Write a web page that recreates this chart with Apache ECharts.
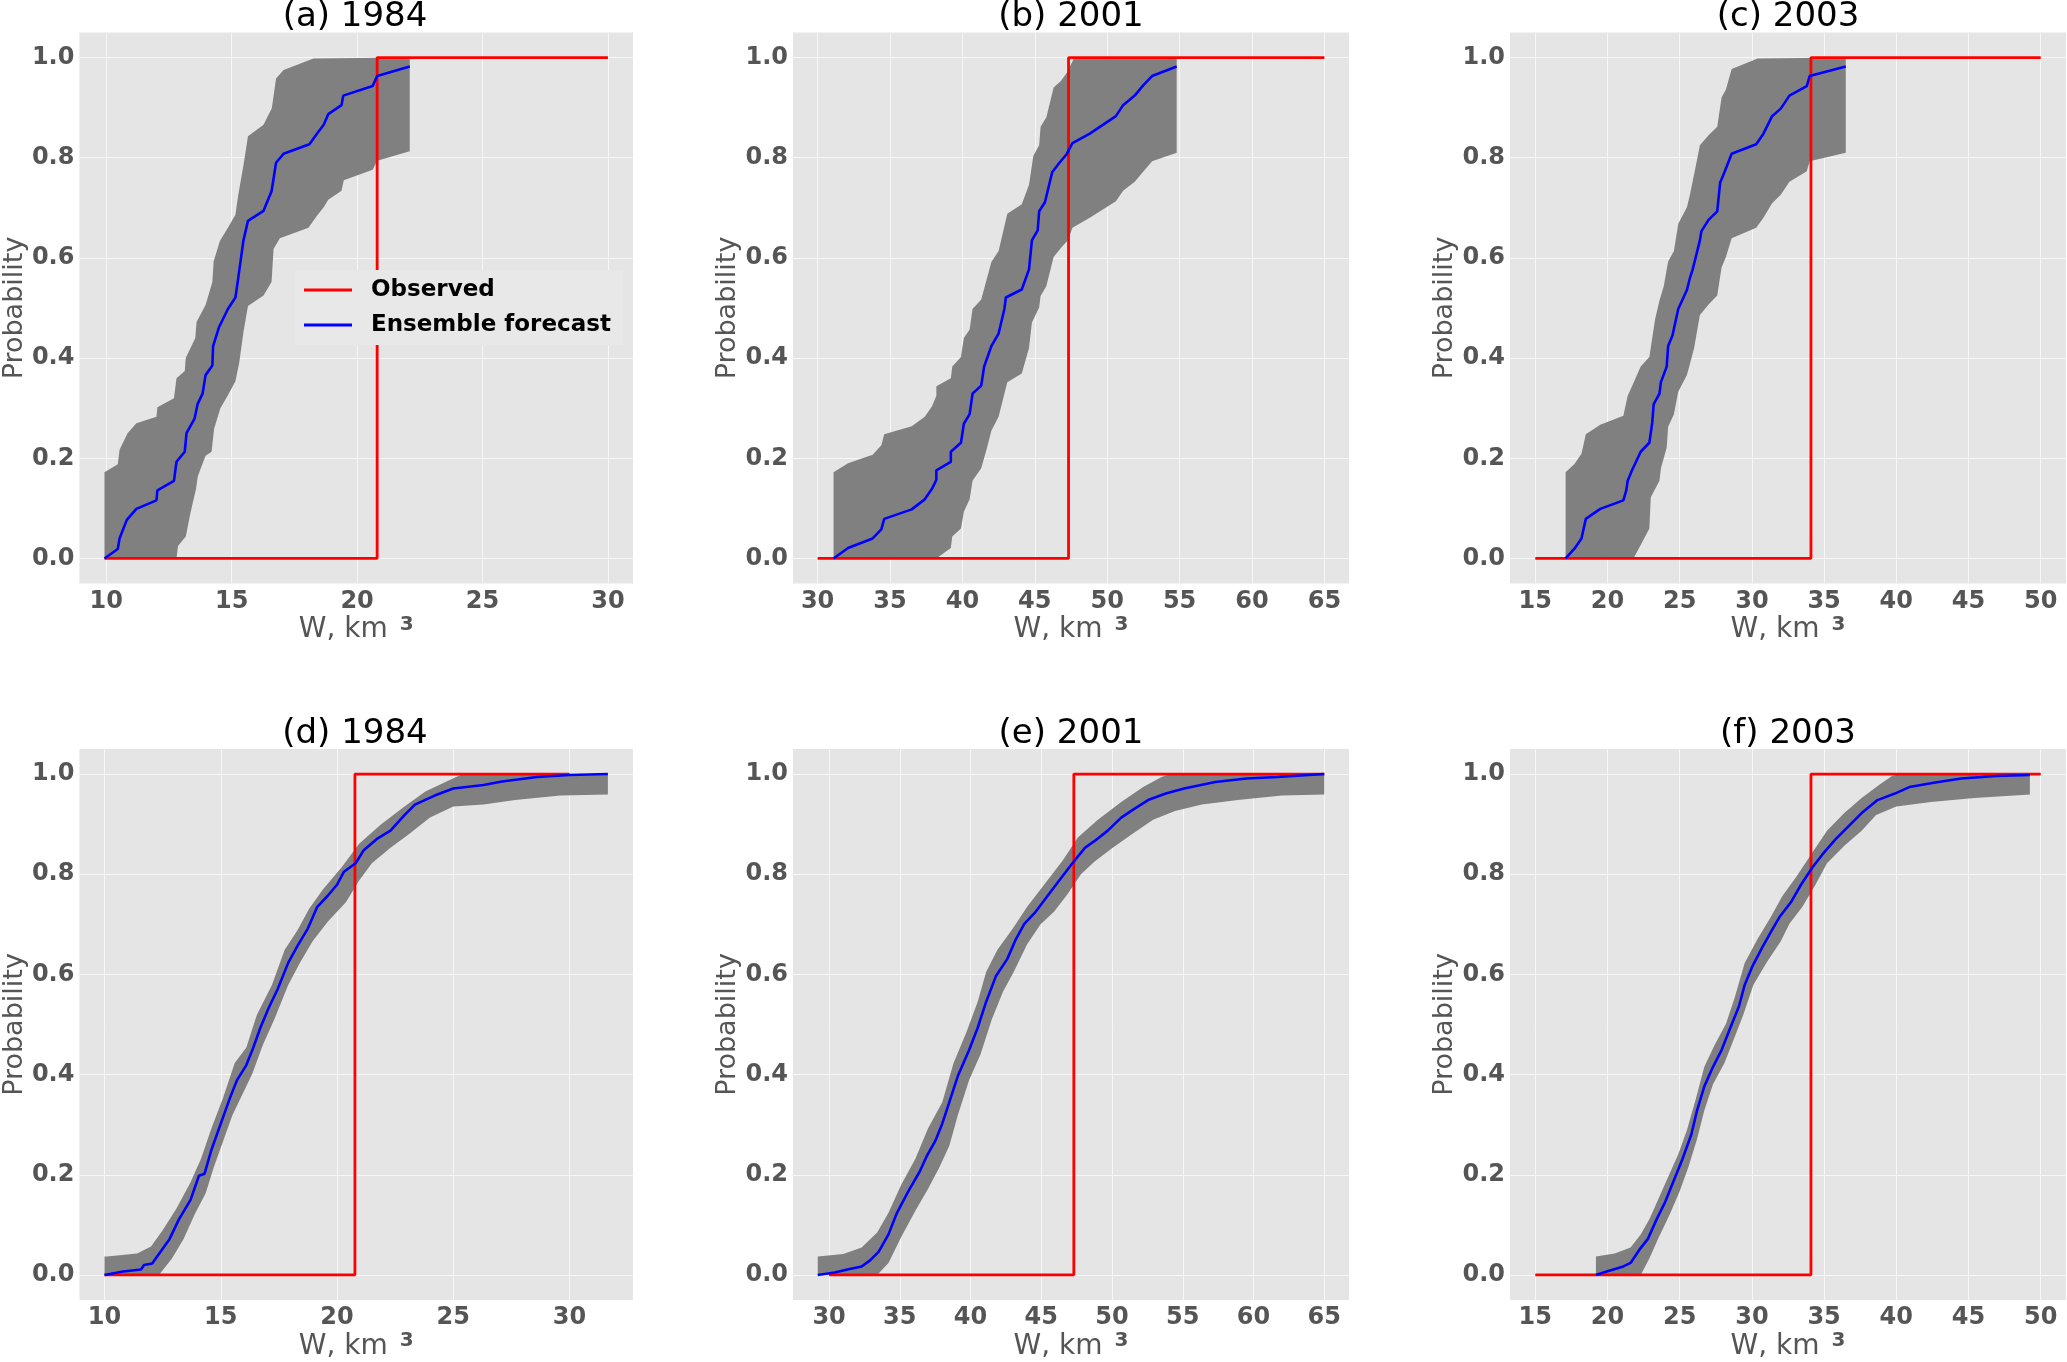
<!DOCTYPE html>
<html>
<head>
<meta charset="utf-8">
<script src="https://cdn.jsdelivr.net/npm/echarts@6/dist/echarts.min.js"></script>
<style>
html,body{margin:0;padding:0;background:#fff;}
#chart{width:2067px;height:1362px;}
</style>
</head>
<body>
<div id="chart"></div>
<script>
// ---------------- DATA ----------------
const titles = ['(a) 1984', '(b) 2001', '(c) 2003', '(d) 1984', '(e) 2001', '(f) 2003'];
const yTicks = [0, 0.2, 0.4, 0.6, 0.8, 1.0];
const xTicksA = [10, 15, 20, 25, 30];
const xTicksB = [30, 35, 40, 45, 50, 55, 60, 65];
const xTicksC = [15, 20, 25, 30, 35, 40, 45, 50];
const xTicksD = [10, 15, 20, 25, 30];
const xTicksE = [30, 35, 40, 45, 50, 55, 60, 65];
const xTicksF = [15, 20, 25, 30, 35, 40, 45, 50];

// observed value and the x-span of the observed step line
const obsA = 20.8, obsSpanA = [9.93, 30];
const obsB = 47.33, obsSpanB = [30, 65];
const obsC = 34.09, obsSpanC = [15, 50];
const obsD = 20.77, obsSpanD = [10, 30];
const obsE = 47.3, obsSpanE = [30, 65];
const obsF = 34.09, obsSpanF = [15, 50];

// (a) 1984
const aFcst = [[9.93,0],[10.46,0.019],[10.53,0.04],[10.82,0.077],[11.2,0.099],[12.0,0.116],[12.04,0.136],[12.7,0.155],[12.8,0.193],[13.13,0.213],[13.2,0.25],[13.52,0.279],[13.64,0.308],[13.84,0.329],[13.96,0.366],[14.23,0.385],[14.26,0.424],[14.49,0.461],[14.85,0.498],[15.15,0.521],[15.26,0.559],[15.47,0.635],[15.65,0.674],[16.27,0.694],[16.59,0.733],[16.77,0.79],[17.07,0.808],[18.1,0.827],[18.4,0.848],[18.67,0.866],[18.85,0.887],[19.38,0.905],[19.45,0.924],[20.62,0.943],[20.8,0.963],[22.1,0.982]];
const aUpper = [[9.93,0],[9.93,0.172],[10.46,0.188],[10.53,0.217],[10.85,0.25],[11.2,0.27],[12.0,0.283],[12.04,0.302],[12.7,0.32],[12.8,0.36],[13.13,0.374],[13.17,0.4],[13.55,0.44],[13.6,0.472],[13.96,0.506],[14.23,0.552],[14.28,0.593],[14.53,0.634],[14.85,0.66],[15.15,0.686],[15.26,0.725],[15.47,0.785],[15.65,0.843],[16.27,0.866],[16.6,0.899],[16.77,0.958],[17.07,0.975],[18.26,0.998],[22.1,1.0]];
const aLower = [[9.93,0],[12.8,0],[12.86,0.025],[13.17,0.044],[13.35,0.089],[13.58,0.139],[13.65,0.164],[13.96,0.205],[14.2,0.213],[14.3,0.259],[14.55,0.3],[14.85,0.326],[15.15,0.354],[15.3,0.39],[15.47,0.452],[15.65,0.504],[16.27,0.525],[16.59,0.552],[16.67,0.618],[16.92,0.639],[18.06,0.66],[18.4,0.684],[18.67,0.701],[18.85,0.716],[19.38,0.734],[19.47,0.755],[20.62,0.776],[20.8,0.794],[22.1,0.813]];

// (b) 2001
const bFcst = [[31.1,0],[32.1,0.021],[33.8,0.04],[34.4,0.058],[34.6,0.079],[36.5,0.098],[37.4,0.118],[37.9,0.139],[38.2,0.157],[38.2,0.176],[39.2,0.193],[39.2,0.213],[39.9,0.231],[40.0,0.25],[40.1,0.269],[40.5,0.288],[40.7,0.329],[41.3,0.345],[41.5,0.383],[42.0,0.424],[42.5,0.449],[42.9,0.498],[43.0,0.521],[44.1,0.537],[44.6,0.577],[44.8,0.635],[45.2,0.655],[45.3,0.693],[45.7,0.711],[46.2,0.771],[46.7,0.79],[47.2,0.807],[47.6,0.829],[48.8,0.848],[50.6,0.883],[51.1,0.905],[51.9,0.924],[52.5,0.945],[53.1,0.963],[54.8,0.982]];
const bUpper = [[31.1,0],[31.1,0.172],[32.1,0.19],[33.8,0.207],[34.4,0.226],[34.6,0.248],[36.5,0.264],[37.4,0.283],[37.9,0.304],[38.2,0.325],[38.2,0.344],[39.2,0.36],[39.3,0.383],[39.9,0.402],[40.1,0.44],[40.5,0.457],[40.7,0.498],[41.3,0.517],[42.0,0.592],[42.5,0.614],[43.1,0.688],[44.1,0.707],[44.6,0.746],[44.9,0.804],[45.3,0.825],[45.4,0.862],[45.8,0.881],[46.3,0.94],[46.8,0.953],[47.2,0.969],[47.7,0.998],[54.8,1.0]];
const bLower = [[31.1,0],[38.2,0],[39.2,0.021],[39.3,0.044],[39.9,0.06],[40.1,0.093],[40.5,0.118],[40.7,0.155],[41.3,0.18],[41.7,0.221],[42.0,0.255],[42.5,0.283],[42.9,0.329],[43.1,0.352],[44.1,0.369],[44.6,0.42],[44.8,0.471],[45.3,0.501],[45.4,0.524],[45.8,0.544],[46.3,0.602],[46.8,0.62],[47.3,0.636],[47.6,0.66],[48.8,0.68],[50.6,0.713],[51.1,0.734],[51.9,0.752],[53.1,0.793],[54.8,0.81]];

// (c) 2003
const cFcst = [[17.1,0],[17.7,0.019],[18.2,0.04],[18.5,0.079],[19.5,0.099],[21.1,0.116],[21.3,0.136],[21.4,0.155],[21.7,0.176],[22.3,0.213],[22.9,0.231],[23.1,0.271],[23.2,0.308],[23.6,0.329],[23.7,0.352],[24.1,0.383],[24.2,0.424],[24.5,0.445],[24.9,0.498],[25.5,0.536],[25.7,0.559],[25.9,0.577],[26.1,0.6],[26.4,0.635],[26.5,0.653],[27.0,0.676],[27.6,0.693],[27.8,0.75],[28.1,0.771],[28.6,0.808],[30.3,0.827],[30.8,0.848],[31.4,0.883],[32.0,0.898],[32.6,0.924],[33.8,0.943],[34.0,0.963],[36.5,0.982]];
const cUpper = [[17.1,0],[17.1,0.172],[17.7,0.188],[18.2,0.209],[18.5,0.248],[19.5,0.267],[21.1,0.285],[21.4,0.325],[21.7,0.344],[22.3,0.383],[22.9,0.402],[23.1,0.44],[23.3,0.478],[23.6,0.515],[23.9,0.544],[24.2,0.593],[24.6,0.614],[24.9,0.668],[25.5,0.701],[25.7,0.725],[26.0,0.767],[26.4,0.825],[27.0,0.845],[27.6,0.862],[27.9,0.92],[28.2,0.936],[28.6,0.977],[30.4,0.998],[36.5,1.0]];
const cLower = [[17.1,0],[21.8,0],[22.3,0.027],[22.9,0.06],[23.0,0.122],[23.6,0.155],[23.7,0.18],[24.1,0.221],[24.2,0.263],[24.6,0.288],[24.9,0.333],[25.5,0.366],[25.7,0.387],[26.0,0.42],[26.4,0.486],[27.0,0.507],[27.6,0.525],[27.9,0.581],[28.2,0.602],[28.6,0.639],[30.3,0.66],[30.8,0.68],[31.4,0.709],[32.0,0.726],[32.6,0.752],[33.8,0.773],[34.0,0.793],[36.5,0.81]];

// (d) 1984
const dFcst = [[10.0,0],[10.8,0.007],[11.57,0.011],[11.7,0.02],[12.05,0.023],[12.34,0.042],[12.8,0.072],[13.2,0.111],[13.7,0.15],[14.06,0.198],[14.3,0.202],[14.6,0.25],[15.0,0.302],[15.4,0.354],[15.7,0.389],[16.1,0.419],[16.4,0.454],[16.7,0.493],[17.05,0.532],[17.45,0.571],[17.9,0.623],[18.3,0.657],[18.75,0.692],[19.15,0.735],[19.6,0.757],[20.0,0.779],[20.3,0.805],[20.8,0.822],[21.15,0.848],[21.7,0.87],[22.3,0.887],[22.9,0.918],[23.35,0.939],[24.2,0.957],[25.0,0.971],[26.3,0.978],[27.1,0.985],[28.6,0.994],[30.0,0.998],[31.65,1.0]];
const dUpper = [[10.0,0],[10.0,0.037],[10.1,0.037],[11.4,0.043],[12.0,0.057],[12.5,0.089],[13.1,0.133],[13.7,0.185],[14.15,0.232],[14.6,0.293],[15.1,0.354],[15.6,0.423],[16.1,0.454],[16.55,0.519],[17.2,0.579],[17.75,0.649],[18.3,0.688],[18.8,0.731],[19.4,0.77],[20.2,0.814],[20.95,0.861],[21.9,0.9],[22.9,0.935],[23.8,0.965],[24.8,0.987],[25.4,1.0],[31.65,1.0]];
const dLower = [[10.0,0],[12.34,0],[12.9,0.033],[13.4,0.072],[13.87,0.12],[14.35,0.163],[14.7,0.215],[15.1,0.267],[15.5,0.319],[15.96,0.363],[16.36,0.402],[16.8,0.458],[17.3,0.51],[17.9,0.579],[18.4,0.623],[18.95,0.666],[19.6,0.705],[20.38,0.744],[20.96,0.788],[21.5,0.822],[22.3,0.853],[23.06,0.879],[24.0,0.913],[25.0,0.935],[26.3,0.939],[27.66,0.948],[29.6,0.957],[31.65,0.959]];

// (e) 2001
const eFcst = [[29.2,0],[30.4,0.005],[31.3,0.011],[32.3,0.017],[32.9,0.029],[33.5,0.046],[34.2,0.081],[34.8,0.124],[35.6,0.167],[36.4,0.206],[36.9,0.237],[37.5,0.267],[38.0,0.302],[38.5,0.345],[39.1,0.397],[39.9,0.449],[40.5,0.493],[41.1,0.545],[41.8,0.597],[42.6,0.631],[43.2,0.67],[43.8,0.701],[44.6,0.725],[45.4,0.755],[46.2,0.785],[47.2,0.822],[48.1,0.853],[48.75,0.866],[49.7,0.887],[50.65,0.913],[51.6,0.931],[52.55,0.948],[53.8,0.961],[55.1,0.971],[57.3,0.984],[59.5,0.991],[61.7,0.994],[65.0,1.0]];
const eUpper = [[29.2,0],[29.2,0.037],[31.0,0.042],[32.3,0.055],[33.4,0.085],[34.2,0.124],[35.1,0.18],[36.1,0.232],[37.0,0.293],[38.0,0.345],[38.8,0.423],[39.7,0.484],[40.5,0.545],[41.1,0.605],[41.9,0.649],[43.0,0.692],[44.0,0.735],[45.2,0.779],[46.5,0.827],[47.6,0.874],[49.0,0.909],[50.65,0.944],[52.2,0.974],[53.5,0.994],[54.1,1.0],[65.0,1.0]];
const eLower = [[29.2,0],[33.4,0],[34.2,0.024],[35.1,0.076],[36.1,0.128],[37.0,0.172],[37.8,0.215],[38.5,0.258],[39.1,0.319],[39.9,0.389],[40.7,0.44],[41.5,0.51],[42.3,0.566],[43.05,0.605],[44.0,0.66],[44.95,0.7],[45.9,0.725],[46.85,0.76],[47.8,0.8],[48.75,0.825],[50.0,0.852],[51.3,0.878],[52.9,0.909],[54.45,0.926],[56.35,0.939],[58.9,0.948],[62.0,0.957],[65.0,0.959]];

// (f) 2003
const fFcst = [[19.2,0],[19.95,0.007],[21.1,0.017],[21.6,0.024],[22.2,0.05],[22.8,0.072],[23.4,0.111],[24.0,0.146],[24.6,0.189],[25.2,0.232],[25.8,0.28],[26.2,0.328],[26.7,0.376],[27.3,0.415],[27.9,0.449],[28.5,0.493],[29.1,0.536],[29.5,0.579],[30.0,0.614],[30.7,0.653],[31.3,0.684],[31.9,0.714],[32.7,0.744],[33.4,0.779],[34.2,0.814],[34.9,0.84],[35.8,0.87],[36.7,0.896],[37.6,0.922],[38.7,0.948],[39.9,0.961],[40.9,0.974],[42.7,0.983],[44.5,0.991],[46.9,0.996],[49.25,0.998]];
const fUpper = [[19.2,0],[19.2,0.037],[20.5,0.043],[21.6,0.055],[22.3,0.081],[22.9,0.111],[23.5,0.15],[24.1,0.189],[24.9,0.241],[25.5,0.289],[26.1,0.35],[26.7,0.415],[27.4,0.458],[28.2,0.501],[28.8,0.553],[29.5,0.623],[30.4,0.671],[31.3,0.714],[32.1,0.756],[33.1,0.796],[34.2,0.844],[35.2,0.887],[36.4,0.922],[37.6,0.952],[38.8,0.978],[39.7,0.996],[40.2,1.0],[49.25,1.0]];
const fLower = [[19.2,0],[22.3,0],[22.9,0.033],[23.5,0.072],[24.3,0.12],[25.0,0.167],[25.6,0.215],[26.2,0.271],[26.7,0.328],[27.3,0.38],[28.1,0.423],[28.7,0.467],[29.4,0.519],[30.1,0.579],[31.0,0.623],[32.0,0.666],[32.6,0.701],[33.5,0.735],[34.4,0.779],[35.2,0.822],[36.4,0.857],[37.6,0.887],[38.6,0.918],[40.0,0.935],[42.4,0.944],[45.4,0.952],[49.25,0.959]];

// ---------------- LAYOUT / STYLE ----------------
const panels = [
  {fc:aFcst, up:aUpper, lo:aLower, obs:obsA, span:obsSpanA, ticks:xTicksA, xr:[8.93,31.0]},
  {fc:bFcst, up:bUpper, lo:bLower, obs:obsB, span:obsSpanB, ticks:xTicksB, xr:[28.3,66.7]},
  {fc:cFcst, up:cUpper, lo:cLower, obs:obsC, span:obsSpanC, ticks:xTicksC, xr:[13.25,51.75]},
  {fc:dFcst, up:dUpper, lo:dLower, obs:obsD, span:obsSpanD, ticks:xTicksD, xr:[8.92,32.73]},
  {fc:eFcst, up:eUpper, lo:eLower, obs:obsE, span:obsSpanE, ticks:xTicksE, xr:[27.45,66.75]},
  {fc:fFcst, up:fUpper, lo:fLower, obs:obsF, span:obsSpanF, ticks:xTicksF, xr:[13.25,51.75]}
];
const colLeft = [77, 793, 1510];
const rowTop = [32.5, 749];
const gw = 556, gh = 551;
const FONT = 'DejaVu Sans';

const grids = [], xAxes = [], yAxes = [], series = [], titleArr = [];
panels.forEach((p, i) => {
  const col = i % 3, row = Math.floor(i / 3);
  const left = colLeft[col], top = rowTop[row];
  grids.push({left: left, top: top, width: gw, height: gh, show: true, backgroundColor: '#E5E5E5', borderWidth: 0, containLabel: false});
  titleArr.push({text: titles[i], left: left + gw / 2, top: top - 32, textAlign: 'center',
    textStyle: {fontFamily: FONT, fontSize: 34, fontWeight: 'normal', color: '#000', lineHeight: 34}, padding: 0});
  xAxes.push({type: 'value', gridIndex: i, min: p.xr[0], max: p.xr[1],
    axisLine: {show: false},
    axisTick: {show: true, customValues: p.ticks, length: 2, lineStyle: {color: '#f4f4f4', width: 1}},
    axisLabel: {customValues: p.ticks, margin: 6, fontFamily: FONT, fontSize: 24, fontWeight: 'bold', color: '#555555',
      formatter: v => String(Math.round(v))},
    splitLine: {show: true, lineStyle: {color: '#f7f7f7', width: 1}},
    name: '{n|W, km }{s|3}', nameLocation: 'middle', nameGap: 15,
    nameTextStyle: {rich: {
      n: {fontFamily: FONT, fontSize: 28, color: '#555555', lineHeight: 31},
      s: {fontFamily: FONT, fontSize: 20, fontWeight: 'bold', color: '#555555', lineHeight: 18, verticalAlign: 'top', padding: [0,0,0,3]}
    }}
  });
  yAxes.push({type: 'value', gridIndex: i, min: -0.05, max: 1.05,
    axisLine: {show: false},
    axisTick: {show: true, customValues: yTicks, length: 2, lineStyle: {color: '#f4f4f4', width: 1}},
    axisLabel: {customValues: yTicks, margin: 5, fontFamily: FONT, fontSize: 24, fontWeight: 'bold', color: '#555555',
      formatter: v => v.toFixed(1)},
    splitLine: {show: true, lineStyle: {color: '#f7f7f7', width: 1}},
    name: 'Probability', nameLocation: 'middle', nameGap: 49,
    nameTextStyle: {fontFamily: FONT, fontSize: 27, color: '#555555'}
  });
  const poly = p.up.concat(p.lo.slice().reverse());
  series.push({type: 'custom', name: 'band' + i, xAxisIndex: i, yAxisIndex: i, z: 1, silent: true,
    clip: true, data: [p.up[0]],
    renderItem: function (params, api) {
      const pts = poly.map(pt => api.coord(pt));
      return {type: 'polygon', shape: {points: pts}, style: {fill: '#808080', stroke: null}};
    }
  });
  series.push({type: 'line', name: 'Observed', xAxisIndex: i, yAxisIndex: i, z: 3, showSymbol: false, symbol: 'none',
    animation: false, lineStyle: {color: '#ff0000', width: 2.8}, itemStyle: {color: '#ff0000'},
    data: [[p.span[0], 0], [p.obs, 0], [p.obs, 1], [p.span[1], 1]]});
  series.push({type: 'line', name: 'Ensemble forecast', xAxisIndex: i, yAxisIndex: i, z: 4, showSymbol: false, symbol: 'none',
    animation: false, lineStyle: {color: '#0000ff', width: 2.6}, itemStyle: {color: '#0000ff'},
    data: p.fc});
});

const chart = echarts.init(document.getElementById('chart'), null, {renderer: 'canvas'});
chart.setOption({
  animation: false,
  backgroundColor: '#ffffff',
  title: titleArr,
  grid: grids,
  xAxis: xAxes,
  yAxis: yAxes,
  legend: {
    data: ['Observed', 'Ensemble forecast'],
    orient: 'vertical', left: 295, top: 270,
    icon: 'rect', itemWidth: 48, itemHeight: 3, itemGap: 11,
    padding: [8, 12, 8, 9],
    backgroundColor: '#E8E8E8', borderWidth: 0,
    selectedMode: false,
    textStyle: {fontFamily: FONT, fontSize: 23, fontWeight: 'bold', color: '#000', lineHeight: 24, padding: [0, 0, 0, 14]}
  },
  series: series
});
</script>
</body>
</html>
